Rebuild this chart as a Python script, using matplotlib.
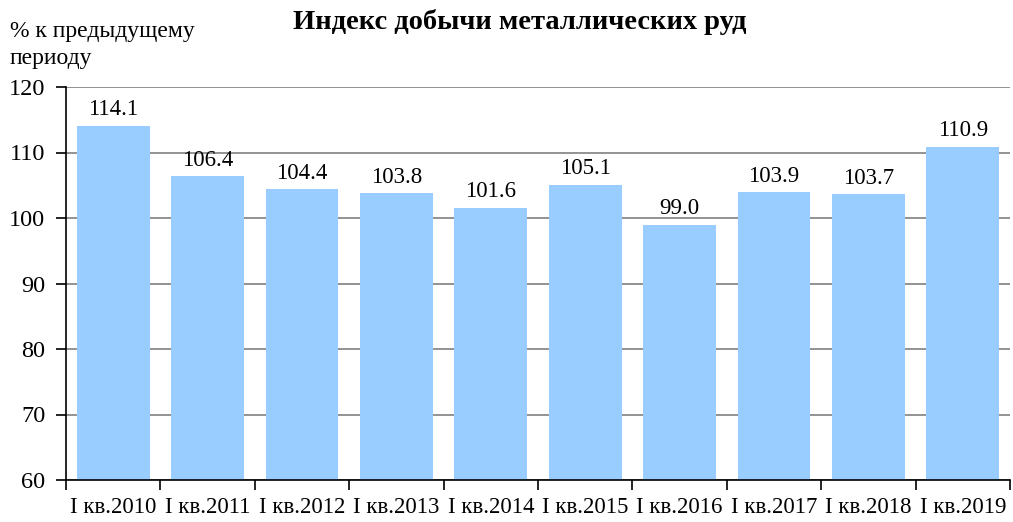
import numpy as np
import matplotlib.pyplot as plt

plt.rcParams['font.family'] = ['Liberation Serif', 'DejaVu Serif']

periods = ['I кв.2010', 'I кв.2011', 'I кв.2012', 'I кв.2013', 'I кв.2014',
           'I кв.2015', 'I кв.2016', 'I кв.2017', 'I кв.2018', 'I кв.2019']
index_values = [114.1, 106.4, 104.4, 103.8, 101.6, 105.1, 99.0, 103.9, 103.7, 110.9]

fig = plt.figure(figsize=(10.13, 5.22), dpi=100)
ax = fig.add_axes([66 / 1013, 1 - 480 / 522, 944 / 1013, 393 / 522])

x = np.arange(len(periods))
ax.bar(x, index_values, width=0.77, color='#99CCFF', zorder=2)

for xi, v in zip(x, index_values):
    ax.text(xi, v + 0.8, f'{v:.1f}', ha='center', va='bottom', fontsize=16.5)

ax.set_ylim(60, 120)
ax.set_xlim(-0.5, len(periods) - 0.5)
ax.set_yticks(np.arange(60, 121, 10))
ax.yaxis.grid(True, color='#808080', linewidth=1.2, zorder=0)
ax.set_axisbelow(True)

ax.set_xticks(x)
ax.set_xticklabels(periods, fontsize=16.5)
ax.tick_params(axis='x', length=0, pad=12)
ax.set_xticks(np.arange(-0.5, len(periods) + 0.5, 1), minor=True)
ax.tick_params(axis='x', which='minor', length=7, width=1.2, direction='out')
ax.tick_params(axis='y', labelsize=17.5, length=7, width=1.2, direction='out', pad=8)

for s in ['top', 'right']:
    ax.spines[s].set_visible(False)
for s in ['left', 'bottom']:
    ax.spines[s].set_linewidth(1.2)

fig.text(520 / 1013, 1 - 22 / 522, 'Индекс добычи металлических руд',
         ha='center', va='center', fontsize=20.5, fontweight='bold')
fig.text(10 / 1013, 1 - 45 / 522, '% к предыдущему\nпериоду',
         ha='left', va='center', fontsize=17, linespacing=1.35)

fig.savefig('out.png', dpi=100)
